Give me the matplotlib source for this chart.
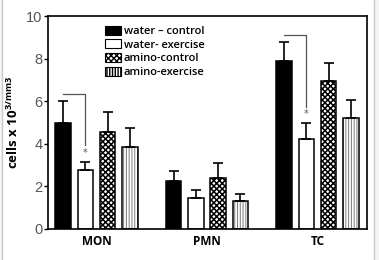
import matplotlib
matplotlib.use("Agg")
import matplotlib.pyplot as plt
import numpy as np
from matplotlib.patches import Rectangle, Patch

# values
groups = ["MON", "PMN", "TC"]
series = ["water \u2013 control", "water- exercise", "amino-control", "amino-exercise"]
means = [
    [4.98, 2.25, 7.88],   # water - control
    [2.77, 1.45, 4.22],   # water - exercise
    [4.55, 2.40, 6.97],   # amino - control
    [3.86, 1.30, 5.20],   # amino - exercise
]
errs = [
    [1.05, 0.45, 0.92],
    [0.38, 0.40, 0.74],
    [0.92, 0.68, 0.80],
    [0.86, 0.34, 0.87],
]
# groups with a significant water-control vs water-exercise difference
sig_groups = [0, 2]

fig = plt.figure(figsize=(3.79, 2.60), dpi=100)
fig.patch.set_facecolor('#f4f4f4')
fig.patches.append(Rectangle((2 / 379, -0.01), 372 / 379, 1.02, transform=fig.transFigure,
                             facecolor='white', edgecolor='#c8c8c8', lw=1.0, zorder=-10))
ax = fig.add_axes([48 / 379, 31 / 260, 319 / 379, 213 / 260])
ax.set_facecolor('white')

x = np.arange(len(groups))
pitch = 0.202
width = 0.14
offsets = (np.arange(4) - 1.5) * pitch

styles = [
    dict(facecolor='black', hatch=None, hcol='black', hlw=0.6),
    dict(facecolor='white', hatch=None, hcol='black', hlw=0.6),
    dict(facecolor='white', hatch='xxxxxx', hcol='black', hlw=1.1),
    dict(facecolor='white', hatch='||||||', hcol='#7a7a7a', hlw=0.7),
]

handles = []
for i in range(4):
    st = styles[i]
    xs = x + offsets[i]
    with plt.rc_context({'hatch.linewidth': st['hlw']}):
        # fill / hatch layer
        ax.bar(xs, means[i], width, facecolor=st['facecolor'], edgecolor=st['hcol'],
               hatch=st['hatch'], linewidth=0, zorder=2)
        handles.append(Patch(facecolor=st['facecolor'], edgecolor='black', hatch=st['hatch'],
                             linewidth=0.8))
    # outline layer
    ax.bar(xs, means[i], width, facecolor='none', edgecolor='black', linewidth=1.1, zorder=3)
    ax.errorbar(xs, means[i], yerr=[np.zeros(3), errs[i]], fmt='none', ecolor='black',
                elinewidth=1.2, capsize=3.5, capthick=1.2, zorder=4)

# significance brackets
for g in sig_groups:
    x0 = x[g] + offsets[0]
    x1 = x[g] + offsets[1]
    top = means[0][g] + errs[0][g] + 0.33
    bottom = means[1][g] + errs[1][g] + 0.78
    ax.plot([x0, x1, x1], [top, top, bottom], color='#555555', lw=0.9, zorder=5)
    ax.text(x1, means[1][g] + errs[1][g] + 0.2, '*', color='#555555', fontsize=7,
            ha='center', va='bottom', zorder=5)

ax.set_xlim(-0.439, 2.448)
ax.set_ylim(0, 10)
ax.set_yticks([0, 2, 4, 6, 8, 10])
ax.set_xticks(x)
ax.set_xticklabels(groups, fontsize=8.5, fontweight='bold', family='Open Sans')
ax.tick_params(axis='x', length=0, pad=4)
ax.tick_params(axis='y', length=3, width=1.0, pad=1, labelsize=10.5, labelcolor='#555555')
for lab in ax.get_yticklabels():
    lab.set_family('Liberation Sans')
for sp in ax.spines.values():
    sp.set_linewidth(1.2)

ax.set_ylabel('cells x 10$^{\\mathregular{3/mm3}}$', fontsize=9.5, fontweight='bold',
              family='Open Sans', labelpad=4)

leg = ax.legend(handles, series, loc='upper left', bbox_to_anchor=(0.178, 0.955),
                frameon=False, handlelength=1.5, handleheight=0.9,
                handletextpad=0.2, labelspacing=0.2, borderpad=0, borderaxespad=0,
                prop={'family': 'Open Sans', 'weight': 'semibold', 'size': 8})

fig.savefig('out.png', dpi=100, facecolor=fig.get_facecolor())
